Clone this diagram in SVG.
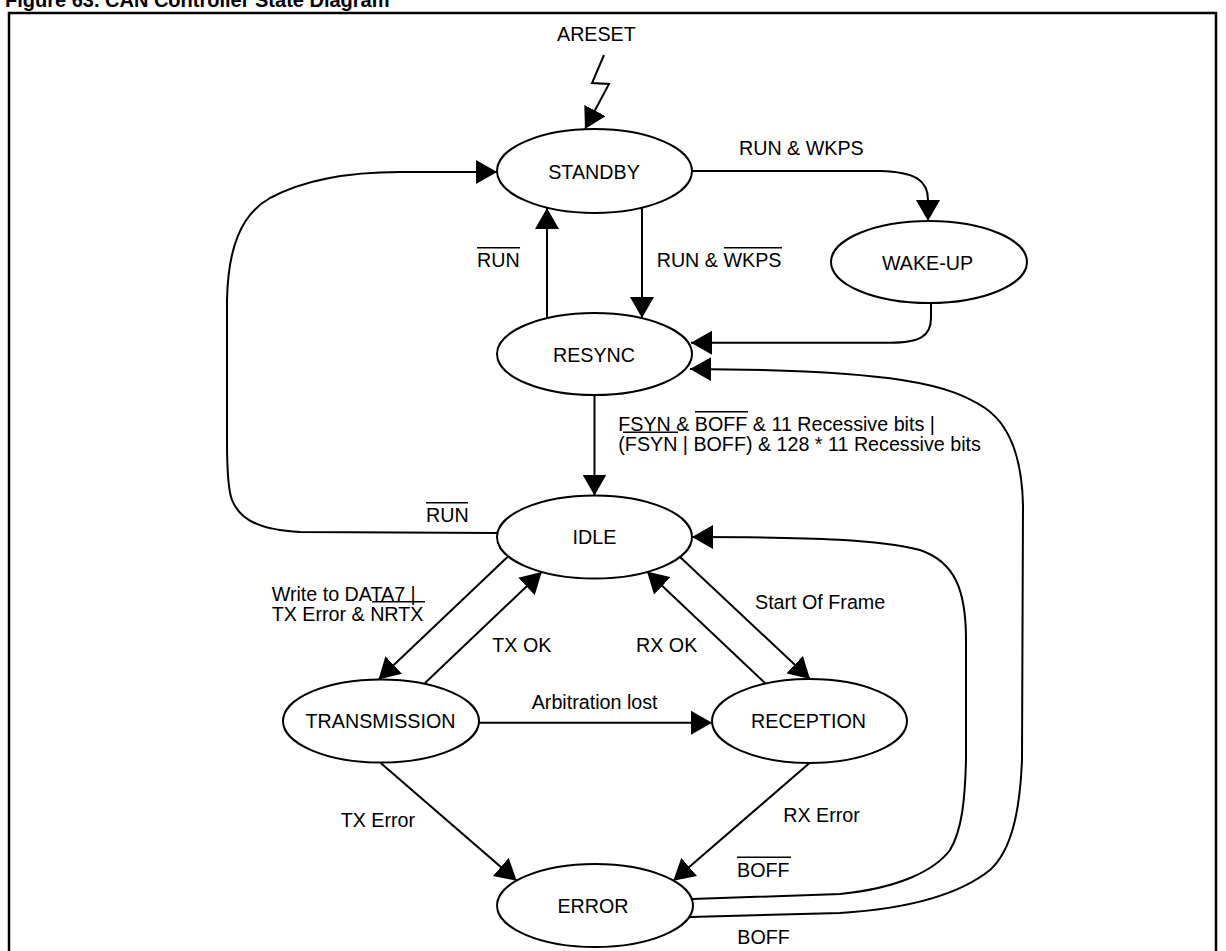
<svg xmlns="http://www.w3.org/2000/svg" width="1226" height="951" viewBox="0 0 1226 951">
<style>
  .node ellipse { fill: #fff; stroke: #000; stroke-width: 2; }
  .node text, .lbl { font-family: "Liberation Sans", Arial, sans-serif; font-size: 19.7px; fill: #000; }
  .node text { text-anchor: middle; }
  .conn path { fill: none; stroke: #000; stroke-width: 2; marker-end: url(#arr); }
  .bar { stroke: #000; stroke-width: 1.4; }
  .title { font-family: "Liberation Sans", Arial, sans-serif; font-size: 20px; font-weight: bold; }
</style>
<defs>
  <marker id="arr" markerUnits="userSpaceOnUse" markerWidth="21" markerHeight="24" refX="21" refY="12" orient="auto" viewBox="0 0 21 24">
    <path d="M0,0 L21,12 L0,24 Z" fill="#000"/>
  </marker>
</defs>
<rect width="1226" height="951" fill="#fff"/>
<text class="title" x="5" y="7">Figure 63. CAN Controller State Diagram</text>
<rect x="9" y="13" width="1207" height="960" fill="none" stroke="#000" stroke-width="2.5"/>

<g id="connectors" class="conn">
  <path d="M604,55 L592,83 L609,84 L585,129"/>
  <path d="M692,171 L880,171 C915,172 928,180 928,200 L928,221"/>
  <path d="M547,318 L547,208"/>
  <path d="M642,208 L642,318"/>
  <path d="M931,303 L931,318 C931,336 920,342.7 890,342.7 L691,342.7"/>
  <path d="M690,917 L840,913 C920,908 965,890 990,870 C1012,850 1020,810 1022,760 L1023,505 C1022,460 1010,425 985,408 C950,385 900,370 690,369"/>
  <path d="M692,899 L840,894 C900,888 935,870 950,850 C962,830 965,800 966,760 L966,640 C966,590 955,562 920,550 C880,540 820,537 692,537"/>
  <path d="M497,533 L300,532 C260,530 240,520 232,500 C228,490 227,470 227,440 L227,300 C228,250 240,215 270,198 C300,182 340,172 400,172 L497,172"/>
  <path d="M594.5,395 L594.5,495.5"/>
  <path d="M508,556.5 L378.5,679.5"/>
  <path d="M425,683 L541.7,572"/>
  <path d="M680,557 L810,679"/>
  <path d="M765,683 L647,571.5"/>
  <path d="M479,722.7 L712,722.7"/>
  <path d="M380.7,763 L516.7,880.7"/>
  <path d="M810.7,762 L673.3,880.7"/>
</g>

<g id="labels">
  <text class="lbl" x="557" y="41">ARESET</text>
  <text class="lbl" x="739" y="155">RUN &amp; WKPS</text>
  <text class="lbl" x="477" y="266.7">RUN</text>
  <line class="bar" x1="477" y1="247.7" x2="520" y2="247.7"/>
  <text class="lbl" x="656.7" y="266.7">RUN &amp; WKPS</text>
  <line class="bar" x1="724" y1="247.7" x2="782" y2="247.7"/>
  <text class="lbl" x="618.3" y="430.7">FSYN &amp; BOFF &amp; 11 Recessive bits |</text>
  <text class="lbl" x="618.3" y="450.7">(FSYN | BOFF) &amp; 128 * 11 Recessive bits</text>
  <line class="bar" x1="695" y1="411.7" x2="748" y2="411.7"/>
  <line class="bar" x1="623" y1="432.3" x2="678" y2="432.3"/>
  <text class="lbl" x="426" y="521.7">RUN</text>
  <line class="bar" x1="426" y1="502.7" x2="468" y2="502.7"/>
  <text class="lbl" x="271.7" y="600.7">Write to DATA7 |</text>
  <text class="lbl" x="271.7" y="620.7">TX Error &amp; NRTX</text>
  <line class="bar" x1="372" y1="601.7" x2="425" y2="601.7"/>
  <text class="lbl" x="492.3" y="651.7">TX OK</text>
  <text class="lbl" x="636" y="651.7">RX OK</text>
  <text class="lbl" x="755" y="609.3">Start Of Frame</text>
  <text class="lbl" x="531.7" y="709">Arbitration lost</text>
  <text class="lbl" x="340.7" y="826.7">TX Error</text>
  <text class="lbl" x="783.3" y="821.7">RX Error</text>
  <text class="lbl" x="737" y="876.7">BOFF</text>
  <line class="bar" x1="737" y1="857.3" x2="791" y2="857.3"/>
  <text class="lbl" x="737.3" y="944">BOFF</text>
</g>

<g id="standby" class="node"><ellipse cx="594.5" cy="171" rx="97.5" ry="42"/><text x="594" y="178.5">STANDBY</text></g>
<g id="wakeup" class="node"><ellipse cx="929" cy="262" rx="98" ry="41"/><text x="927.5" y="270">WAKE-UP</text></g>
<g id="resync" class="node"><ellipse cx="594.5" cy="354" rx="97.5" ry="41"/><text x="594" y="361.7">RESYNC</text></g>
<g id="idle" class="node"><ellipse cx="594.5" cy="537" rx="97.5" ry="41.5"/><text x="594.5" y="544.3">IDLE</text></g>
<g id="transmission" class="node"><ellipse cx="381" cy="721" rx="98" ry="41.5"/><text x="380.5" y="728.3">TRANSMISSION</text></g>
<g id="reception" class="node"><ellipse cx="809.5" cy="721" rx="97.5" ry="42"/><text x="808.5" y="728.3">RECEPTION</text></g>
<g id="error" class="node"><ellipse cx="595" cy="905.5" rx="98" ry="41.5"/><text x="593" y="912.7">ERROR</text></g>
</svg>
